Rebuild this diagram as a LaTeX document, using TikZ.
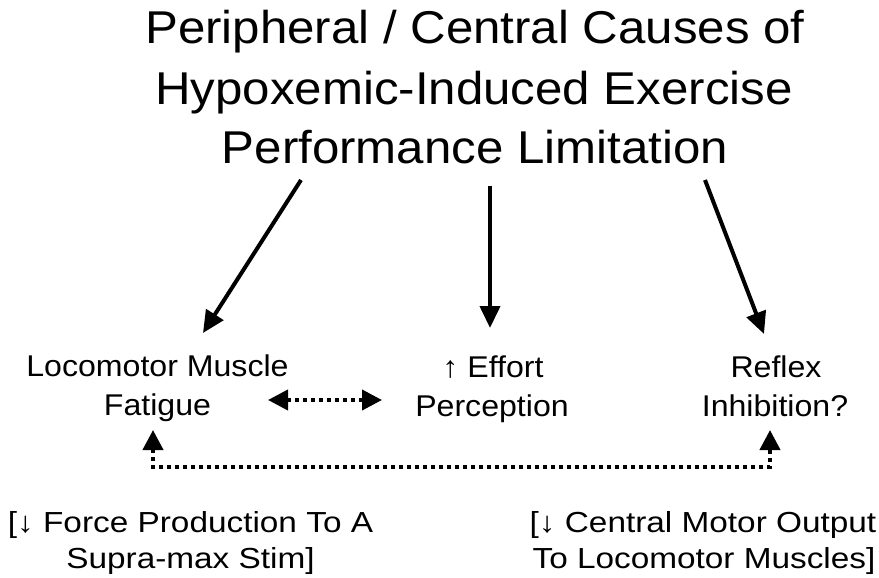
\documentclass[tikz,border=0pt]{standalone}
\usepackage{fontspec}
\setmainfont{Liberation Sans}
\newfontfamily\stretchfont{Liberation Sans}[FakeStretch=1.07]
\newfontfamily\lowfont{Liberation Sans}[FakeStretch=1.15]
\usetikzlibrary{arrows.meta}
\tikzset{
  titletext/.style={font=\stretchfont\fontsize{46}{46}\selectfont, anchor=base, inner sep=0pt},
  midtext/.style={font=\stretchfont\fontsize{30}{30}\selectfont, anchor=base, inner sep=0pt},
  lowtext/.style={font=\lowfont\fontsize{29}{29}\selectfont, anchor=base, inner sep=0pt},
  bigarrow/.style={line width=4pt, -{Triangle[length=22pt,width=20pt]}},
  dotarrow/.style={line width=4pt, dash pattern=on 4pt off 4pt, {Triangle[length=20pt,width=20pt]}-{Triangle[length=20pt,width=20pt]}}
}
\begin{document}
\begin{tikzpicture}[x=1pt,y=-1pt]
\useasboundingbox (0,0) rectangle (879,578);
% title
\node[titletext] (t1) at (475,44) {Peripheral / Central Causes of};
\node[titletext] (t2) at (474,104) {Hypoxemic-Induced Exercise};
\node[titletext] (t3) at (475,163) {Performance Limitation};
% middle labels
\node[midtext] (loc1) at (157.5,376) {Locomotor Muscle};
\node[midtext] (loc2) at (157.5,415) {Fatigue};
\node[midtext] (eff1) at (493,377) {↑ Effort};
\node[midtext] (eff2) at (492,416) {Perception};
\node[midtext] (ref1) at (776,377) {Reflex};
\node[midtext] (ref2) at (775,416) {Inhibition?};
% bottom labels
\node[lowtext] (f1) at (190.5,532) {[↓ Force Production To A};
\node[lowtext] (f2) at (190.5,568) {Supra-max Stim]};
\node[lowtext] (c1) at (703,532) {[↓ Central Motor Output};
\node[lowtext] (c2) at (704,568) {To Locomotor Muscles]};
% arrow end points
\coordinate (aLs) at (301,180);
\coordinate (aLe) at (203,333);
\coordinate (aMs) at (490,186);
\coordinate (aMe) at (490,328);
\coordinate (aRs) at (705,180);
\coordinate (aRe) at (764,334);
\draw[bigarrow] (aLs) -- (aLe);
\draw[bigarrow] (aMs) -- (aMe);
\draw[bigarrow] (aRs) -- (aRe);
% dotted double arrow
\coordinate (dL) at (268,400);
\coordinate (dR) at (382,400);
\draw[dotarrow] (dL) -- (dR);
% bottom connector
\coordinate (bL) at (153,430);
\coordinate (bR) at (770,430);
\coordinate (bLc) at (153,467);
\coordinate (bRc) at (770,467);
\draw[dotarrow] (bL) -- (bLc) -- (bRc) -- (bR);
\end{tikzpicture}
\end{document}
